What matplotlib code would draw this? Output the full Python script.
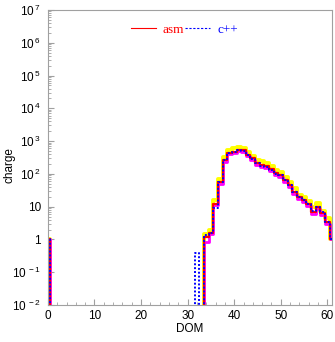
import numpy as np
import matplotlib
matplotlib.use("Agg")
import matplotlib.pyplot as plt
from matplotlib.lines import Line2D
from matplotlib.ticker import FixedLocator, FuncFormatter

plt.rcParams['font.family'] = ['Liberation Sans', 'DejaVu Sans']
plt.rcParams['mathtext.fontset'] = 'custom'
plt.rcParams['mathtext.rm'] = 'Liberation Sans'

# DOM bins 0..61 (bin centred on the integer)
dom = np.arange(0, 62)

def fill(vals):
    out = np.zeros(62)
    for k, v in vals.items():
        out[k] = v
    return out

asm = fill({0: 1, 34: 1.2, 35: 1.6, 36: 12.5, 37: 55, 38: 265, 39: 440, 40: 470,
            41: 540, 42: 520, 43: 390, 44: 300, 45: 210, 46: 185, 47: 170,
            48: 137, 49: 103, 50: 92, 51: 65, 52: 46, 53: 28, 54: 20, 55: 16,
            56: 12.5, 57: 7, 58: 10, 59: 6.3, 60: 3.5, 61: 1})
cpp = fill({0: 1, 32: 0.4, 34: 1.35, 35: 1.6, 36: 9, 37: 57, 38: 270, 39: 440, 40: 480,
            41: 540, 42: 510, 43: 380, 44: 290, 45: 210, 46: 180, 47: 165,
            48: 135, 49: 100, 50: 90, 51: 63, 52: 45, 53: 28, 54: 20, 55: 16,
            56: 12, 57: 7.5, 58: 9.5, 59: 7, 60: 3.3, 61: 1})
upper = fill({0: 1, 34: 1.5, 35: 1.95, 36: 16, 37: 68, 38: 320, 39: 540, 40: 600,
              41: 650, 42: 620, 43: 450, 44: 350, 45: 265, 46: 245, 47: 218,
              48: 172, 49: 130, 50: 116, 51: 82, 52: 57, 53: 36, 54: 23, 55: 20,
              56: 15, 57: 9.5, 58: 12.6, 59: 7.5, 60: 4.4, 61: 1})
lower = fill({0: 1, 34: 0.85, 35: 1.5, 36: 11, 37: 48, 38: 230, 39: 400, 40: 430,
              41: 500, 42: 470, 43: 350, 44: 265, 45: 185, 46: 165, 47: 150,
              48: 120, 49: 90, 50: 80, 51: 57, 52: 40, 53: 24, 54: 17.5, 55: 14,
              56: 10.5, 57: 6, 58: 8.5, 59: 5.5, 60: 3.0, 61: 1})

edges = np.append(dom - 0.5, dom[-1] + 0.5)

def steps(v):
    return np.append(v, v[-1])

fig = plt.figure(figsize=(3.35, 3.42), dpi=100)
ax = fig.add_axes([0.143, 0.108, 0.848, 0.863])

ax.step(edges, steps(upper), where='post', color='#ffff00', lw=2.8)
ax.step(edges, steps(lower), where='post', color='#ff00ff', lw=2.0)
ax.step(edges, steps(asm), where='post', color='#ff0000', lw=1.6)
ax.step(edges, steps(cpp), where='post', color='#0000ff', lw=1.4, ls=(0, (1, 1)))

ax.set_yscale('log')
ax.set_ylim(1e-2, 1e7)
ax.set_xlim(0, 61)

def ylab(v, pos):
    e = int(round(np.log10(v)))
    if e == 0:
        return '1'
    if e == 1:
        return '10'
    return r'$\mathregular{10^{\,%d}}$' % e

ax.yaxis.set_major_formatter(FuncFormatter(ylab))
ax.set_xticks(range(0, 61, 10))
ax.xaxis.set_minor_locator(FixedLocator(range(0, 61, 2)))

for s in ax.spines.values():
    s.set_color('#a0a0a0')
ax.tick_params(which='both', direction='in', color='#a0a0a0', labelsize=8.5, top=False, right=False)
ax.tick_params(which='major', length=4)
ax.tick_params(which='minor', length=2)
ax.tick_params(axis='y', pad=5)

ax.set_xlabel('DOM', fontsize=8.5, labelpad=1)
fig.text(9 / 335, 1 - 165 / 342, 'charge', rotation=90, fontsize=8.5, ha='center', va='center')

handles = [Line2D([], [], color='#ff0000', lw=0.8),
           Line2D([], [], color='#0000ff', lw=0.8, ls=(0, (2, 1.5)))]
leg = ax.legend(handles, ['asm', 'c++'], loc='upper center', bbox_to_anchor=(0.48, 0.995),
                ncol=2, frameon=False, handlelength=1.9, handletextpad=0.5, columnspacing=0.1,
                prop={'family': 'Liberation Serif', 'size': 9.5})
for t, c in zip(leg.get_texts(), ['#ff0000', '#0000ff']):
    t.set_color(c)

fig.savefig('out.png', dpi=100)
